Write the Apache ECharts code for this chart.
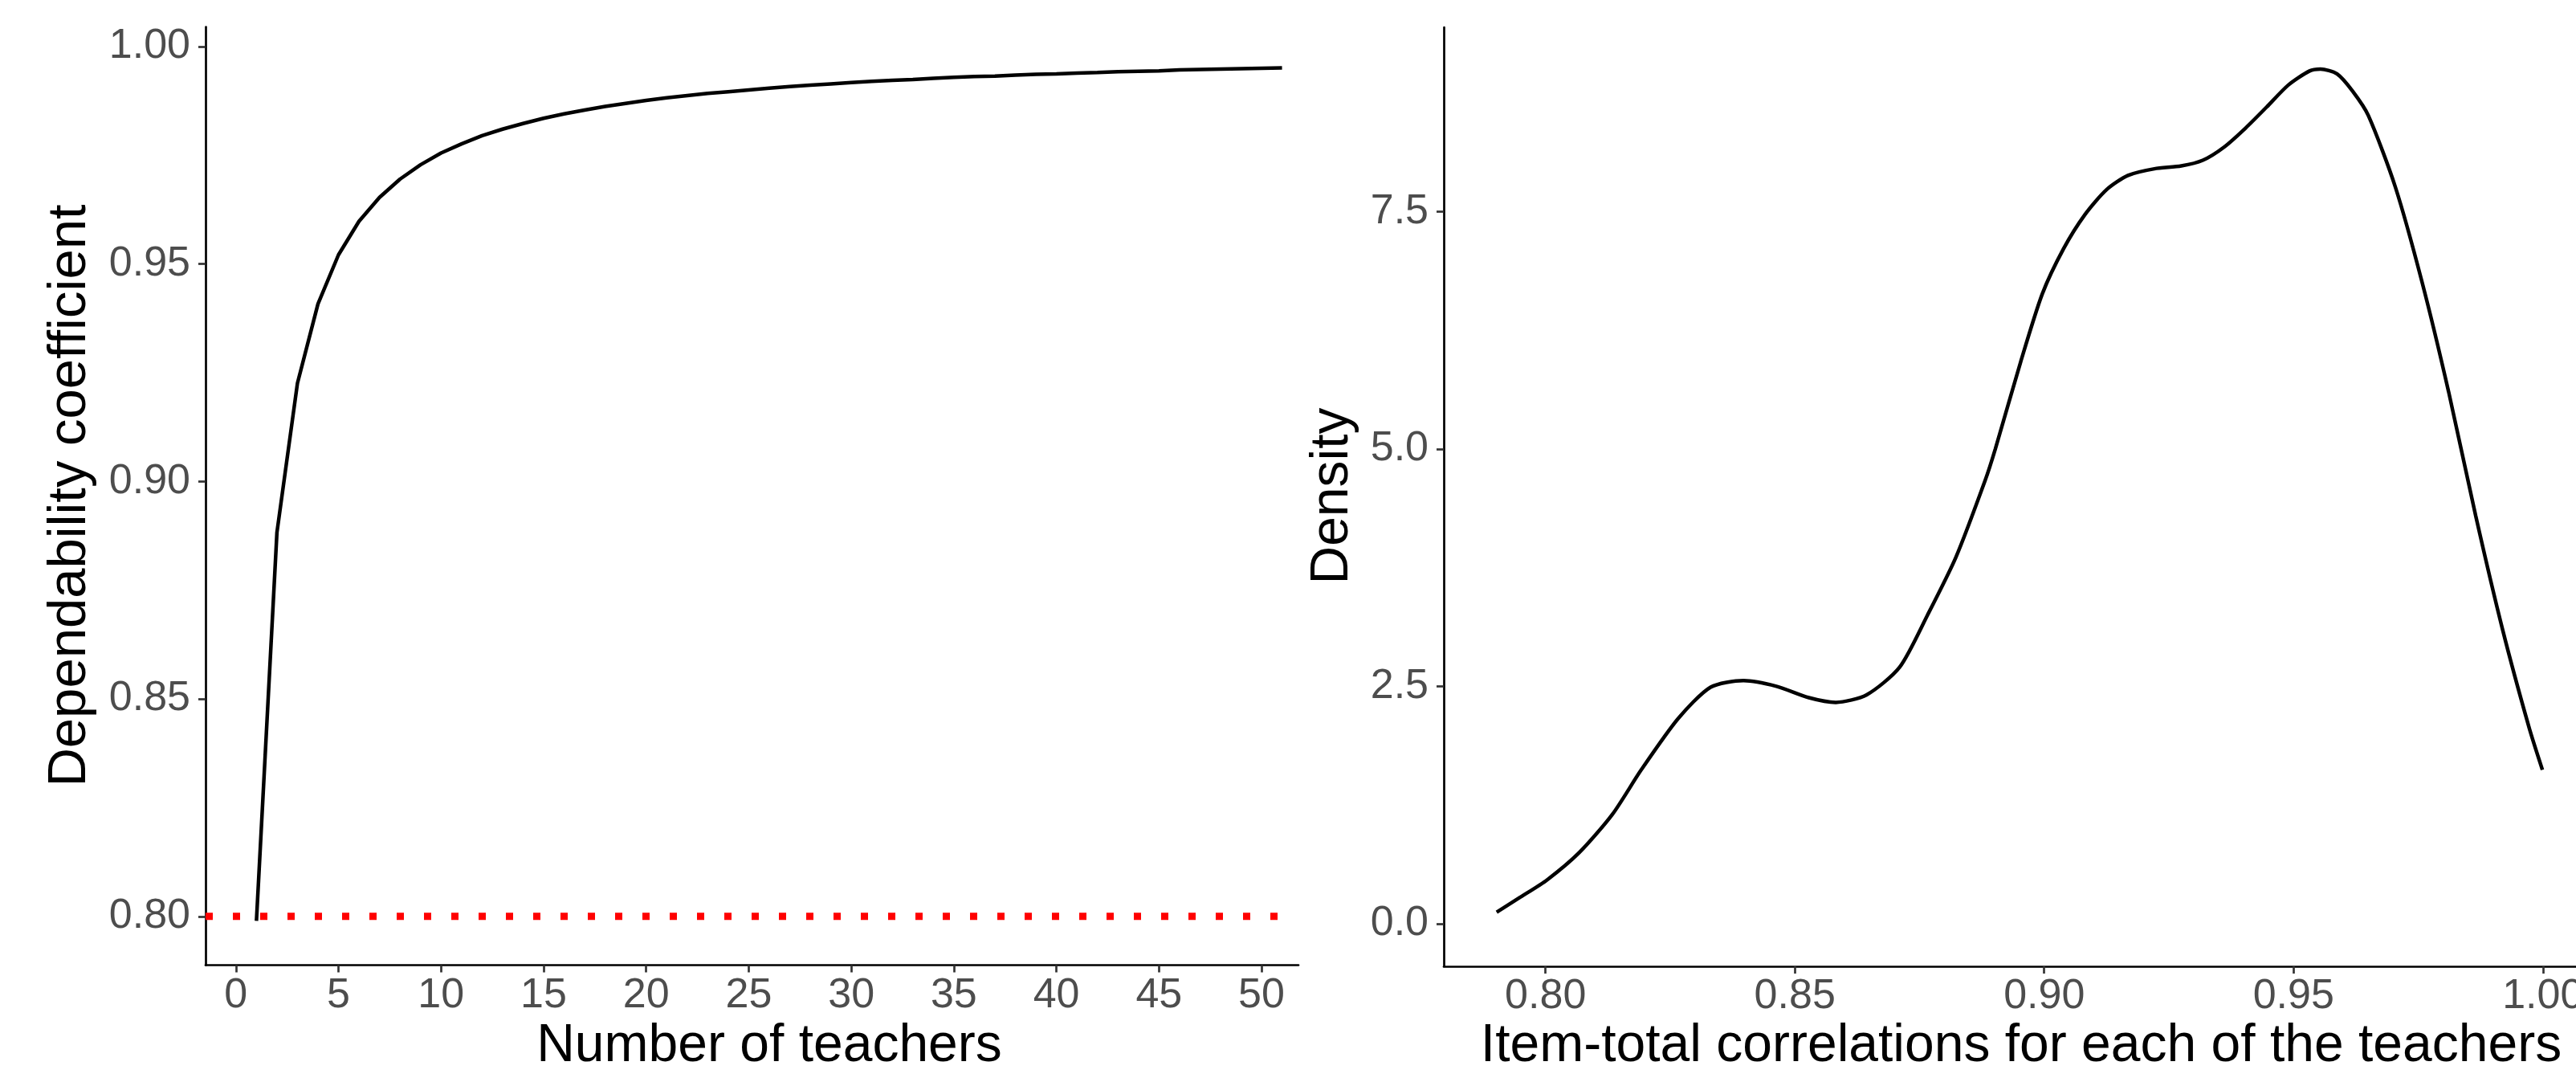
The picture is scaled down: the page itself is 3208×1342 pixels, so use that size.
<!DOCTYPE html>
<html>
<head>
<meta charset="utf-8">
<script src="https://cdn.jsdelivr.net/npm/echarts@6/dist/echarts.min.js"></script>
<style>
  html, body { margin: 0; padding: 0; background: #ffffff; }
  #chart { width: 3208px; height: 1342px; }
</style>
</head>
<body>
<div id="chart"></div>
<script>
// ---------- Data ----------
// Left panel: dependability coefficient vs number of teachers
const teachers = [1,2,3,4,5,6,7,8,9,10,11,12,13,14,15,16,17,18,19,20,21,22,23,24,25,26,27,28,29,30,31,32,33,34,35,36,37,38,39,40,41,42,43,44,45,46,47,48,49,50,51];
const dependability = [0.7990,0.8883,0.9226,0.9408,0.9521,0.9598,0.9653,0.9695,0.9728,0.9755,
  0.9776,0.9795,0.9810,0.9823,0.9835,0.9845,0.9854,0.9862,0.9869,0.9876,
  0.9882,0.9887,0.9892,0.9896,0.9900,0.9904,0.9908,0.9911,0.9914,0.9917,
  0.9920,0.9922,0.9924,0.9927,0.9929,0.9931,0.9932,0.9934,0.9936,0.9937,
  0.9939,0.9940,0.9942,0.9943,0.9944,0.9946,0.9947,0.9948,0.9949,0.9950,0.9951];
const thresholdValue = 0.80;
const thresholdEndX = 51;

// Right panel: density of item-total correlations
const corrX = [0.7902,0.7950,0.8003,0.8068,0.8134,0.8192,0.8266,0.8331,0.8397,0.8463,
  0.8528,0.8582,0.8644,0.8710,0.8766,0.8823,0.8881,0.8902,0.8953,0.8996,
  0.9039,0.9082,0.9125,0.9168,0.9221,0.9275,0.9318,0.9361,0.9404,0.9446,
  0.9489,0.9532,0.9554,0.9587,0.9618,0.9650,0.9704,0.9758,0.9811,0.9865,
  0.9919,0.9972,0.9999];
const densityY = [0.12,0.28,0.46,0.75,1.15,1.62,2.16,2.49,2.56,2.50,
  2.38,2.33,2.41,2.70,3.25,3.86,4.66,5.00,5.92,6.63,
  7.11,7.47,7.73,7.88,7.95,7.98,8.04,8.18,8.38,8.60,
  8.83,8.98,9.00,8.95,8.77,8.51,7.76,6.75,5.60,4.30,
  3.10,2.07,1.62];

// Tick values and labels
const leftXTicks = [0,5,10,15,20,25,30,35,40,45,50];
const leftXLabels = ['0','5','10','15','20','25','30','35','40','45','50'];
const leftYTicks = [0.80,0.85,0.90,0.95,1.00];
const leftYLabels = ['0.80','0.85','0.90','0.95','1.00'];
const rightXTicks = [0.80,0.85,0.90,0.95,1.00];
const rightXLabels = ['0.80','0.85','0.90','0.95','1.00'];
const rightYTicks = [0,2.5,5,7.5];
const rightYLabels = ['0.0','2.5','5.0','7.5'];

// Titles
const leftXTitle = 'Number of teachers';
const leftYTitle = 'Dependability coefficient';
const rightXTitle = 'Item-total correlations for each of the teachers';
const rightYTitle = 'Density';

// ---------- Helpers ----------
function labelFor(ticks, labels) {
  return function (v) {
    let best = 0, bd = Infinity;
    for (let i = 0; i < ticks.length; i++) {
      const d = Math.abs(ticks[i] - v);
      if (d < bd) { bd = d; best = i; }
    }
    return labels[best];
  };
}

const FONT = 'Liberation Sans, Arial, Helvetica, sans-serif';
const tickLabelStyle = { fontFamily: FONT, fontSize: 52, color: '#4D4D4D' };
const axisTickStyle = { length: 9, lineStyle: { color: '#333333', width: 2.7 } };

function makeAxis(gridIndex, min, max, ticks, labels, margin) {
  return {
    type: 'value',
    gridIndex: gridIndex,
    min: min,
    max: max,
    scale: true,
    splitLine: { show: false },
    axisLine: { show: true, onZero: false, lineStyle: { color: '#000000', width: 2.7 } },
    axisTick: Object.assign({ show: true, customValues: ticks }, axisTickStyle),
    axisLabel: Object.assign({
      show: true,
      customValues: ticks,
      margin: margin,
      formatter: labelFor(ticks, labels),
      showMinLabel: true,
      showMaxLabel: true,
      hideOverlap: false
    }, tickLabelStyle)
  };
}

const chart = echarts.init(document.getElementById('chart'), null, { renderer: 'canvas' });

const option = {
  backgroundColor: '#ffffff',
  animation: false,
  grid: [
    { left: 256, top: 33.5, width: 1361, height: 1168, containLabel: false, outerBoundsMode: 'none' },
    { left: 1798, top: 34, width: 1434, height: 1169, containLabel: false, outerBoundsMode: 'none' }
  ],
  xAxis: [
    makeAxis(0, -1.48, 51.8, leftXTicks, leftXLabels, 12),
    makeAxis(1, 0.7796, 1.0105, rightXTicks, rightXLabels, 12)
  ],
  yAxis: [
    makeAxis(0, 0.7888, 1.0045, leftYTicks, leftYLabels, 19),
    makeAxis(1, -0.45, 9.44, rightYTicks, rightYLabels, 19)
  ],
  series: [
    {
      type: 'line',
      xAxisIndex: 0, yAxisIndex: 0,
      data: [[-1.48, thresholdValue], [thresholdEndX, thresholdValue]],
      symbol: 'none',
      lineStyle: { color: '#FF0000', width: 9, type: [9, 25], cap: 'butt' },
      silent: true,
      z: 2
    },
    {
      type: 'line',
      xAxisIndex: 0, yAxisIndex: 0,
      data: teachers.map((t, i) => [t, dependability[i]]),
      symbol: 'none',
      lineStyle: { color: '#000000', width: 4.5 },
      silent: true,
      z: 3
    },
    {
      type: 'line',
      xAxisIndex: 1, yAxisIndex: 1,
      data: corrX.map((x, i) => [x, densityY[i]]),
      symbol: 'none',
      smooth: 0.25,
      lineStyle: { color: '#000000', width: 4.5 },
      silent: true,
      z: 3
    }
  ],
  graphic: [
    {
      type: 'text', x: 958, y: 1303,
      style: { text: leftXTitle, fontFamily: FONT, fontSize: 66, fill: '#000000', align: 'center', verticalAlign: 'middle' }
    },
    {
      type: 'text', x: 2517, y: 1303,
      style: { text: rightXTitle, fontFamily: FONT, fontSize: 66, fill: '#000000', align: 'center', verticalAlign: 'middle' }
    },
    {
      type: 'text', x: 88, y: 617, rotation: Math.PI / 2,
      style: { text: leftYTitle, fontFamily: FONT, fontSize: 67, fill: '#000000', align: 'center', verticalAlign: 'middle' }
    },
    {
      type: 'text', x: 1660, y: 617.5, rotation: Math.PI / 2,
      style: { text: rightYTitle, fontFamily: FONT, fontSize: 66, fill: '#000000', align: 'center', verticalAlign: 'middle' }
    }
  ]
};

chart.setOption(option);
</script>
</body>
</html>
